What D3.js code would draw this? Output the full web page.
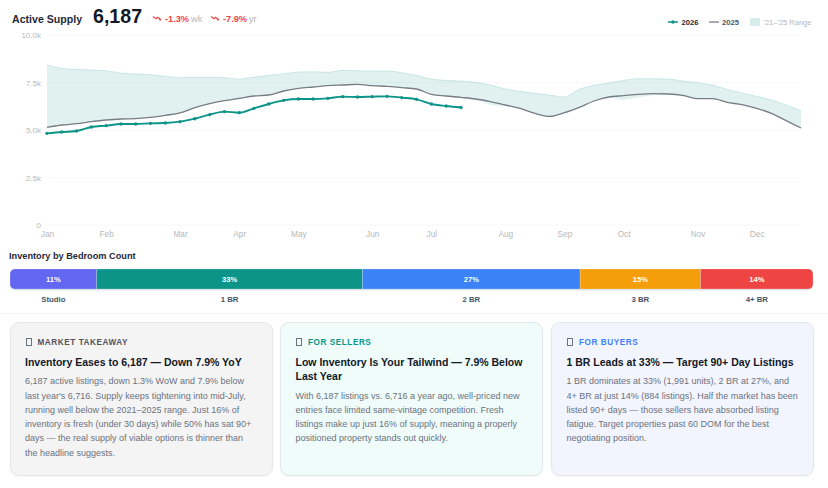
<!DOCTYPE html>
<html>
<head>
<meta charset="utf-8">
<script src="https://cdn.jsdelivr.net/npm/d3@7"></script>
<style>
html, body { margin: 0; padding: 0; background: #fff; width: 828px; height: 488px; overflow: hidden; }
body { font-family: "Liberation Sans", Arial, sans-serif; position: relative; }
svg { position: absolute; left: 0; top: 0; }
.card { position: absolute; top: 322px; height: 152px; border-radius: 9px; border: 1px solid #e5e7eb; box-shadow: 0 1px 2px rgba(0,0,0,.04); }
.eyebrow { position: absolute; left: 15px; top: 14px; font-size: 8.2px; line-height: 11px; font-weight: 700; letter-spacing: .55px; white-space: nowrap; }
.box { display: inline-block; width: 4px; height: 6px; border: 1px solid #6b7280; margin-right: 6px; vertical-align: -1px; }
.title { position: absolute; left: 14.5px; top: 32px; font-size: 10.5px; line-height: 14.3px; font-weight: 700; color: #111827; white-space: nowrap; }
.body { position: absolute; left: 14.5px; font-size: 9px; line-height: 14.3px; color: #6b7280; white-space: nowrap; }
</style>
</head>
<body>
<svg id="chart" width="828" height="488"></svg>
<script>
let width = 828;
let height = 488;

const months = ['Jan','Feb','Mar','Apr','May','Jun','Jul','Aug','Sep','Oct','Nov','Dec'];
const monthWeeks = [0,4,9,13,17,22,26,31,35,39,44,48];
const yTicks = [0,2500,5000,7500,10000];

const y2026 = [4825,4895,4947,5158,5228,5316,5316,5351,5368,5439,5596,5807,5965,5912,6140,6368,6561,6632,6632,6667,6754,6737,6754,6772,6702,6614,6368,6263,6187];
const y2025 = [5140,5263,5333,5439,5526,5579,5596,5667,5772,5895,6175,6386,6544,6667,6789,6842,7053,7193,7263,7333,7368,7404,7333,7298,7228,7158,6877,6789,6716,6632,6491,6316,6140,5877,5719,5912,6193,6526,6737,6807,6877,6912,6895,6825,6649,6649,6456,6333,6140,5877,5491,5105];
const rangeHigh = [8421,8246,8193,8158,8123,8000,7947,7912,7825,7754,7772,7772,7754,7684,7789,7877,7965,8053,8070,8035,8140,8123,8105,8105,8018,7877,7684,7614,7579,7509,7368,7158,7035,6930,6842,6737,7140,7351,7474,7614,7702,7702,7684,7579,7491,7368,7140,6947,6772,6579,6316,6018];
const rangeLow = [5140,5263,5333,5439,5526,5579,5596,5667,5772,5895,6175,6386,6544,6614,6789,6842,7053,7193,7263,7333,7368,7404,7333,7298,7228,7158,6877,6789,6716,6614,6333,6263,6140,5877,5719,5912,6193,6526,6702,6579,6719,6825,6860,6825,6649,6649,6456,6333,6140,5877,5491,5105];

const bedrooms = ['Studio','1 BR','2 BR','3 BR','4+ BR'];
const bedroomShare = [10.8,33.1,27.1,15,14];
const bedroomLabels = ['11%','33%','27%','15%','14%'];
const bedroomColors = ['#6366f1','#0d9488','#3b82f6','#f59e0b','#ef4444'];

const cardHeads = ['MARKET TAKEAWAY','FOR SELLERS','FOR BUYERS'];
const cardHeadColors = ['#52525b','#0d9488','#3b82f6'];
const cardTitles = [
    ['Inventory Eases to 6,187 — Down 7.9% YoY'],
    ['Low Inventory Is Your Tailwind — 7.9% Below','Last Year'],
    ['1 BR Leads at 33% — Target 90+ Day Listings']
];
const cardBodies = [
    ['6,187 active listings, down 1.3% WoW and 7.9% below',"last year's 6,716. Supply keeps tightening into mid-July,",'running well below the 2021–2025 range. Just 16% of','inventory is fresh (under 30 days) while 50% has sat 90+','days — the real supply of viable options is thinner than','the headline suggests.'],
    ['With 6,187 listings vs. 6,716 a year ago, well-priced new','entries face limited same-vintage competition. Fresh','listings make up just 16% of supply, meaning a properly','positioned property stands out quickly.'],
    ['1 BR dominates at 33% (1,991 units), 2 BR at 27%, and','4+ BR at just 14% (884 listings). Half the market has been','listed 90+ days — those sellers have absorbed listing','fatigue. Target properties past 60 DOM for the best','negotiating position.']
];
const cardBg = ['#f4f4f5','#effcfa','#f3f5fe'];

const svg = d3.select('#chart');

const x = d3.scalePoint().domain(d3.range(52)).range([47,801]);
const y = d3.scaleLinear().domain([0,10000]).range([225,35]);

// grid + axes
svg.append('g').selectAll('line').data(yTicks).join('line')
    .attr('x1',47).attr('x2',801)
    .attr('y1',d => y(d)).attr('y2',d => y(d))
    .attr('stroke','#f6f6f7').attr('stroke-width',0.8);

const yAxis = svg.append('g').attr('transform','translate(47,0)')
    .call(d3.axisLeft(y).tickValues(yTicks).tickSize(0).tickPadding(6)
        .tickFormat(d => d == 0 ? '0' : (d/1000).toFixed(1) + 'k'));
yAxis.select('.domain').remove();
yAxis.selectAll('text').attr('fill','#b8b8b8').style('font','8px "Liberation Sans"');

const xAxis = svg.append('g').attr('transform','translate(0,225)')
    .call(d3.axisBottom(x).tickValues(monthWeeks).tickSize(0).tickPadding(6)
        .tickFormat((d,i) => months[i]));
xAxis.select('.domain').remove();
xAxis.selectAll('text').attr('fill','#b8b8b8').style('font','8.3px "Liberation Sans"');

// range band
const band = d3.area().x((d,i) => x(i)).y0((d,i) => y(rangeLow[i])).y1(d => y(d)).curve(d3.curveMonotoneX);
svg.append('path').datum(rangeHigh).attr('d',band).attr('fill','#0d9488').attr('fill-opacity',0.13);
svg.append('path').datum(rangeHigh)
    .attr('d',d3.line().x((d,i) => x(i)).y(d => y(d)).curve(d3.curveMonotoneX))
    .attr('fill','none').attr('stroke','#0d9488').attr('stroke-opacity',0.2).attr('stroke-width',0.8);

const line = d3.line().x((d,i) => x(i)).y(d => y(d)).curve(d3.curveMonotoneX);
svg.append('path').datum(y2025).attr('d',line).attr('fill','none').attr('stroke','#777c85').attr('stroke-width',1.3);
svg.append('path').datum(y2026).attr('d',line).attr('fill','none').attr('stroke','#0d9488').attr('stroke-width',1.9);
svg.append('g').selectAll('circle').data(y2026).join('circle')
    .attr('cx',(d,i) => x(i)).attr('cy',d => y(d)).attr('r',1.7).attr('fill','#0d9488');

// header
function txt(s, px, py, size, weight, fill, anchor) {
    return svg.append('text').attr('x',px).attr('y',py).text(s)
        .attr('font-size',size).attr('font-weight',weight).attr('fill',fill)
        .attr('text-anchor',anchor || 'start').attr('font-family','"Liberation Sans"');
}
txt('Active Supply',12,23,10.6,700,'#1f2937');
txt('6,187',93,23,19.6,700,'#111827');

function trendIcon(px) {
    svg.append('path').attr('d',`M${px} 16.5l3 2.2 1.6-1.4 3.4 2.7`)
        .attr('fill','none').attr('stroke','#ef4444').attr('stroke-width',1.1);
    svg.append('circle').attr('cx',px+7).attr('cy',19.5).attr('r',1).attr('fill','#ef4444');
}
trendIcon(153);
txt('-1.3%',165,22,9.2,700,'#ef4444');
txt('wk',191,22,9.2,400,'#b8b8b8');
trendIcon(211);
txt('-7.9%',223,22,9.2,700,'#ef4444');
txt('yr',249,22,9.2,400,'#b8b8b8');

// legend
svg.append('line').attr('x1',668).attr('x2',678).attr('y1',22).attr('y2',22).attr('stroke','#0d9488').attr('stroke-width',1.5);
svg.append('circle').attr('cx',673).attr('cy',22).attr('r',1.8).attr('fill','#0d9488');
txt('2026',681.5,25,7.6,700,'#1f2937');
svg.append('line').attr('x1',709).attr('x2',719).attr('y1',22).attr('y2',22).attr('stroke','#777c85').attr('stroke-width',1.3);
txt('2025',722,25,7.6,700,'#4b5563');
svg.append('rect').attr('x',750).attr('y',18).attr('width',10).attr('height',8).attr('fill','#0d9488').attr('fill-opacity',0.17);
txt("'21–'25 Range",763.5,25,7.5,400,'#b8b8b8');

// bedroom bar
txt('Inventory by Bedroom Count',9,259,9.2,700,'#1f2937');

const total = d3.sum(bedroomShare);
const barX = d3.scaleLinear().domain([0,total]).range([10,813]);
const cum = d3.cumsum(bedroomShare);

svg.append('defs').append('clipPath').attr('id','barClip')
    .append('rect').attr('x',10).attr('y',269).attr('width',803).attr('height',20).attr('rx',5);
svg.append('rect').attr('x',10).attr('y',270).attr('width',803).attr('height',20.5).attr('rx',5).attr('fill','#c7d2e0').attr('fill-opacity',0.6);

const bar = svg.append('g').attr('clip-path','url(#barClip)');
bar.selectAll('rect').data(bedroomShare).join('rect')
    .attr('x',(d,i) => barX(cum[i]-d))
    .attr('width',d => barX(d) - barX(0))
    .attr('y',269).attr('height',20)
    .attr('fill',(d,i) => bedroomColors[i])
    .attr('stroke','#fff').attr('stroke-opacity',0.35).attr('stroke-width',0.6);

svg.append('g').selectAll('text').data(bedroomLabels).join('text')
    .attr('x',(d,i) => barX(cum[i]-bedroomShare[i]/2)).attr('y',281.5)
    .attr('text-anchor','middle').attr('fill','#fff')
    .attr('font-size',7.6).attr('font-weight',700).text(d => d);

svg.append('g').selectAll('text').data(bedrooms).join('text')
    .attr('x',(d,i) => barX(cum[i]-bedroomShare[i]/2)).attr('y',302)
    .attr('text-anchor','middle').attr('fill','#4b5563')
    .attr('font-size',7.8).attr('font-weight',700).text(d => d);

svg.append('line').attr('x1',0).attr('x2',828).attr('y1',313.5).attr('y2',313.5).attr('stroke','#f1f5f5');

// cards
const cardLeft = [9.5,280,551];
const cardW = [261,261,261];
const cards = d3.select('body').selectAll('.card').data(cardHeads).join('div')
    .attr('class','card')
    .style('left',(d,i) => cardLeft[i] + 'px')
    .style('width',(d,i) => cardW[i] + 'px')
    .style('background',(d,i) => cardBg[i]);

const head = cards.append('div').attr('class','eyebrow').style('color',(d,i) => cardHeadColors[i]);
head.append('span').attr('class','box');
head.append('span').text(d => d);

cards.append('div').attr('class','title').html((d,i) => cardTitles[i].join('<br>'));
cards.append('div').attr('class','body')
    .style('top',(d,i) => (32 + cardTitles[i].length*14.3 + 5) + 'px')
    .html((d,i) => cardBodies[i].join('<br>'));
</script>
</body>
</html>
